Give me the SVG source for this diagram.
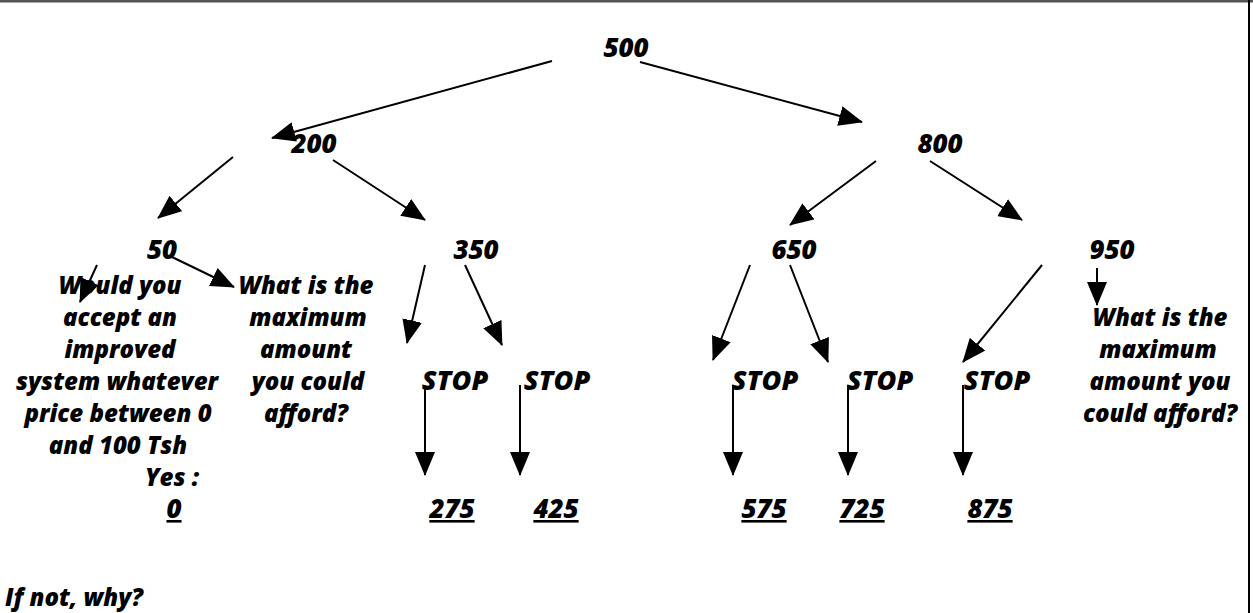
<svg xmlns="http://www.w3.org/2000/svg" width="1253" height="613" viewBox="0 0 1253 613">
<style>
text{font-family:"Open Sans","Noto Sans","DejaVu Sans",sans-serif;font-weight:800;font-style:italic;font-size:24px;fill:#000;}
.c{text-anchor:middle;}
.n{font-size:26px;}
.s{font-size:27px;}
.u{text-decoration:underline;}
.ln{stroke:#000;stroke-width:2;fill:none;marker-end:url(#ah);}
</style>
<defs>
<marker id="ah" markerUnits="userSpaceOnUse" viewBox="0 0 24 20" markerWidth="24" markerHeight="20" refX="23" refY="10" orient="auto">
<path d="M0,0 L24,10 L0,20 z" fill="#000"/>
</marker>
</defs>
<rect x="0" y="0" width="1253" height="613" fill="#fff"/>
<line x1="0" y1="1" x2="1253" y2="1" stroke="#555" stroke-width="3"/>
<line x1="1249" y1="0" x2="1249" y2="613" stroke="#000" stroke-width="2"/>

<g id="connectors">
<line class="ln" x1="552" y1="61" x2="272" y2="138"/>
<line class="ln" x1="640" y1="62" x2="862" y2="122"/>
<line class="ln" x1="233" y1="157" x2="158" y2="218"/>
<line class="ln" x1="333" y1="160" x2="425" y2="220"/>
<line class="ln" x1="876" y1="161" x2="790" y2="225"/>
<line class="ln" x1="930" y1="161" x2="1022" y2="220"/>
<line class="ln" x1="97" y1="265" x2="80" y2="302"/>
<line class="ln" x1="172" y1="257" x2="234" y2="287"/>
<line class="ln" x1="425" y1="265" x2="407" y2="343"/>
<line class="ln" x1="465" y1="265" x2="502" y2="345"/>
<line class="ln" x1="750" y1="265" x2="713" y2="360"/>
<line class="ln" x1="790" y1="265" x2="828" y2="362"/>
<line class="ln" x1="1042" y1="265" x2="963" y2="362"/>
<line class="ln" x1="1097" y1="268" x2="1097" y2="305"/>
<line class="ln" x1="425" y1="385" x2="425" y2="475"/>
<line class="ln" x1="520" y1="385" x2="520" y2="475"/>
<line class="ln" x1="733" y1="385" x2="733" y2="475"/>
<line class="ln" x1="848" y1="385" x2="848" y2="475"/>
<line class="ln" x1="963" y1="385" x2="963" y2="475"/>
</g>

<g id="n500"><text class="c n" x="626" y="57">500</text></g>
<g id="n200"><text class="c n" x="314" y="153">200</text></g>
<g id="n800"><text class="c n" x="940" y="153">800</text></g>
<g id="n50"><text class="c n" x="162" y="259">50</text></g>
<g id="n350"><text class="c n" x="476" y="259">350</text></g>
<g id="n650"><text class="c n" x="794" y="259">650</text></g>
<g id="n950"><text class="c n" x="1112" y="259">950</text></g>

<g id="qLeft">
<text class="c" x="120" y="294">Would you</text>
<text class="c" x="120" y="326">accept an</text>
<text class="c" x="120" y="358">improved</text>
<text class="c" x="117" y="390">system whatever</text>
<text class="c" x="118" y="422">price between 0</text>
<text class="c" x="118" y="454">and 100 Tsh</text>
<text class="c" x="172" y="486">Yes :</text>
<text class="c u n" x="174" y="518">0</text>
</g>

<g id="qMid">
<text class="c" x="306" y="294">What is the</text>
<text class="c" x="308" y="326">maximum</text>
<text class="c" x="306" y="358">amount</text>
<text class="c" x="308" y="390">you could</text>
<text class="c" x="306" y="422">afford?</text>
</g>

<g id="qRight">
<text class="c" x="1160" y="326">What is the</text>
<text class="c" x="1158" y="358">maximum</text>
<text class="c" x="1160" y="390">amount you</text>
<text class="c" x="1160" y="422">could afford?</text>
</g>

<g id="stop1"><text class="c s" x="455" y="390">STOP</text></g>
<g id="stop2"><text class="c s" x="557" y="390">STOP</text></g>
<g id="stop3"><text class="c s" x="765" y="390">STOP</text></g>
<g id="stop4"><text class="c s" x="880" y="390">STOP</text></g>
<g id="stop5"><text class="c s" x="997" y="390">STOP</text></g>

<g id="r275"><text class="c u n" x="452" y="518">275</text></g>
<g id="r425"><text class="c u n" x="556" y="518">425</text></g>
<g id="r575"><text class="c u n" x="764" y="518">575</text></g>
<g id="r725"><text class="c u n" x="862" y="518">725</text></g>
<g id="r875"><text class="c u n" x="990" y="518">875</text></g>

<g id="ifnot"><text x="5" y="606">If not, why?</text></g>
</svg>
